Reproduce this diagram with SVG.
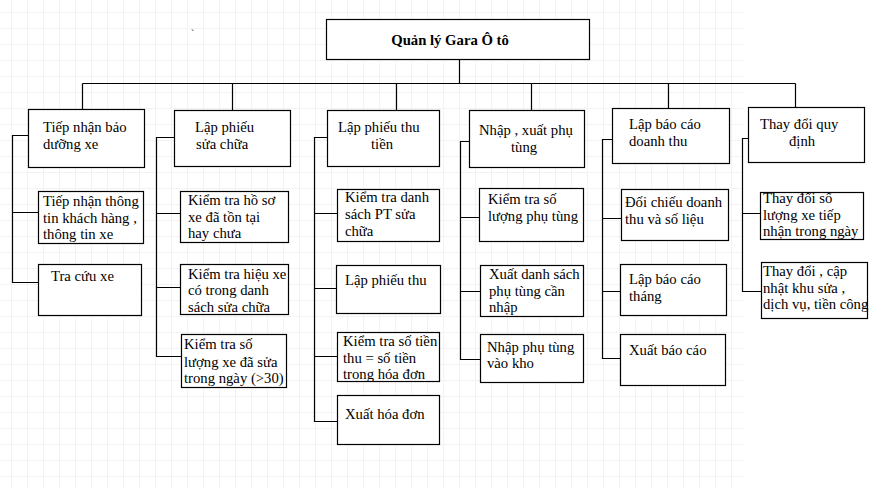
<svg xmlns="http://www.w3.org/2000/svg" width="875" height="487" viewBox="0 0 875 487">
<style>
.bx{fill:#fff;stroke:#000;stroke-width:1.2}
.ln{fill:none;stroke:#000;stroke-width:1.2}
text{font-family:"Liberation Serif","Times New Roman",serif;font-size:14.7px;fill:#000}
.ttl{font-weight:bold}
</style>
<defs>
<pattern id="grid" x="11" y="12" width="16" height="16" patternUnits="userSpaceOnUse">
<path d="M0 0.5H16M0.5 0V16" stroke="#f3f3f3" stroke-width="1" fill="none"/>
</pattern>
</defs>
<rect width="875" height="487" fill="#fff"/>
<rect width="743" height="487" fill="url(#grid)"/>
<text x="191" y="36" style="font-size:9px">`</text>
<g id="connectors" class="ln">
<path d="M459.5 59V83.5M82.5 83.5H795.5M82.5 83.5V109M232.5 83.5V110M396.5 83.5V110M531.5 83.5V110M668.5 83.5V108M795.5 83.5V107"/>
<path d="M28 135.5H12.5V282.5H38M12.5 212.5H38"/>
<path d="M174 137.5H156.5V356.5H181M156.5 213.5H180M156.5 287.5H180"/>
<path d="M327 137.5H314.5V421.5H337M314.5 213.5H337M314.5 288.5H336M314.5 356.5H337"/>
<path d="M469 141.5H460.5V359.5H480M460.5 217.5H479M460.5 291.5H480"/>
<path d="M612 139.5H602.5V358.5H620M602.5 218.5H621M602.5 291.5H620"/>
<path d="M748 138.5H742.5V291.5H761M742.5 213.5H760"/>
</g>
<g id="root"><rect class="bx" x="326.5" y="19.5" width="263" height="40"/><text class="ttl" x="450" y="45" text-anchor="middle">Quản lý Gara Ô tô</text></g>
<g id="n1"><rect class="bx" x="28.5" y="109.5" width="116" height="58"/><text x="43" y="132">Tiếp nhận bảo</text><text x="43" y="149">dưỡng xe</text></g>
<g id="n2"><rect class="bx" x="174.5" y="110.5" width="116" height="56"/><text x="195" y="132">Lập phiếu</text><text x="196" y="149">sửa chữa</text></g>
<g id="n3"><rect class="bx" x="327.5" y="110.5" width="112" height="56"/><text x="338" y="132">Lập phiếu thu</text><text x="371" y="149">tiền</text></g>
<g id="n4"><rect class="bx" x="469.5" y="110.5" width="115" height="57"/><text x="479" y="135">Nhập , xuất phụ</text><text x="511" y="152">tùng</text></g>
<g id="n5"><rect class="bx" x="612.5" y="108.5" width="117" height="55"/><text x="629" y="129">Lập báo cáo</text><text x="629" y="146">doanh thu</text></g>
<g id="n6"><rect class="bx" x="748.5" y="107.5" width="116" height="55"/><text x="760" y="129">Thay đổi quy</text><text x="789" y="146">định</text></g>
<g id="n1a"><rect class="bx" x="38.5" y="191.5" width="105" height="52"/><text x="43" y="206">Tiếp nhận thông</text><text x="43" y="223">tin khách hàng ,</text><text x="43" y="239">thông tin xe</text></g>
<g id="n1b"><rect class="bx" x="38.5" y="264.5" width="103" height="51"/><text x="51" y="281">Tra cứu xe</text></g>
<g id="n2a"><rect class="bx" x="180.5" y="191.5" width="108" height="51"/><text x="188" y="205">Kiểm tra hồ sơ</text><text x="188" y="222">xe đã tồn tại</text><text x="188" y="238">hay chưa</text></g>
<g id="n2b"><rect class="bx" x="180.5" y="264.5" width="108" height="50"/><text x="188" y="279">Kiểm tra hiệu xe</text><text x="188" y="295">có trong danh</text><text x="188" y="312">sách sửa chữa</text></g>
<g id="n2c"><rect class="bx" x="181.5" y="334.5" width="105" height="53"/><text x="184" y="349">Kiểm tra số</text><text x="184" y="367">lượng xe đã sửa</text><text x="184" y="383">trong ngày (&gt;30)</text></g>
<g id="n3a"><rect class="bx" x="337.5" y="189.5" width="102" height="52"/><text x="345" y="202">Kiểm tra danh</text><text x="345" y="219">sách PT sửa</text><text x="345" y="236">chữa</text></g>
<g id="n3b"><rect class="bx" x="336.5" y="265.5" width="104" height="48"/><text x="345" y="285">Lập phiếu thu</text></g>
<g id="n3c"><rect class="bx" x="337.5" y="332.5" width="102" height="49"/><text x="343" y="346">Kiểm tra số tiền</text><text x="343" y="363">thu = số tiền</text><text x="343" y="379">trong hóa đơn</text></g>
<g id="n3d"><rect class="bx" x="337.5" y="395.5" width="102" height="49"/><text x="345" y="419">Xuất hóa đơn</text></g>
<g id="n4a"><rect class="bx" x="479.5" y="188.5" width="104" height="53"/><text x="488" y="204">Kiểm tra số</text><text x="488" y="221">lượng phụ tùng</text></g>
<g id="n4b"><rect class="bx" x="480.5" y="265.5" width="103" height="51"/><text x="489" y="279">Xuất danh sách</text><text x="489" y="296">phụ tùng cần</text><text x="489" y="312">nhập</text></g>
<g id="n4c"><rect class="bx" x="480.5" y="334.5" width="103" height="48"/><text x="487" y="352">Nhập phụ tùng</text><text x="487" y="368">vào kho</text></g>
<g id="n5a"><rect class="bx" x="621.5" y="189.5" width="107" height="51"/><text x="625" y="207">Đối chiếu doanh</text><text x="625" y="224">thu và số liệu</text></g>
<g id="n5b"><rect class="bx" x="620.5" y="264.5" width="106" height="51"/><text x="629" y="284">Lập báo cáo</text><text x="629" y="301">tháng</text></g>
<g id="n5c"><rect class="bx" x="620.5" y="334.5" width="105" height="51"/><text x="629" y="355">Xuất báo cáo</text></g>
<g id="n6a"><rect class="bx" x="760.5" y="192.5" width="103" height="47"/><text x="763" y="203">Thay đổi số</text><text x="763" y="220">lượng xe tiếp</text><text x="763" y="236">nhận trong ngày</text></g>
<g id="n6b"><rect class="bx" x="761.5" y="262.5" width="106" height="56"/><text x="763" y="276">Thay đổi , cập</text><text x="763" y="293">nhật khu sửa ,</text><text x="763" y="309">dịch vụ, tiền công</text></g>
</svg>
